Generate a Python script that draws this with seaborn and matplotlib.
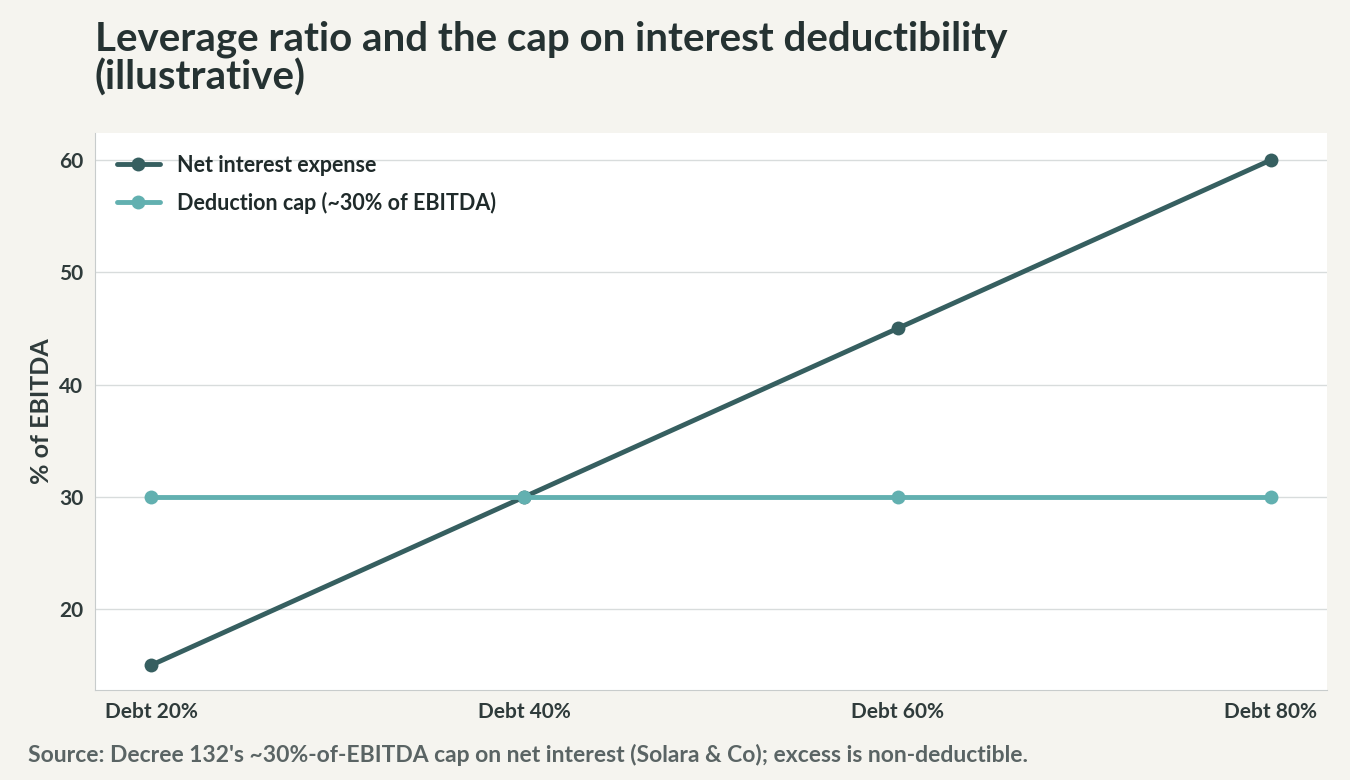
import matplotlib
matplotlib.use("Agg")
import matplotlib.pyplot as plt
import seaborn as sns
import pandas as pd

categories = ["Debt 20%", "Debt 40%", "Debt 60%", "Debt 80%"]
net_interest = [15, 30, 45, 60]
deduction_cap = [30, 30, 30, 30]
series_names = ["Net interest expense", "Deduction cap (~30% of EBITDA)"]

sns.set_style("whitegrid")
plt.rcParams['font.family'] = ['Lato', 'DejaVu Sans']

df = pd.DataFrame({
    "cat": categories * 2,
    "val": net_interest + deduction_cap,
    "series": [series_names[0]] * 4 + [series_names[1]] * 4,
})
df["x"] = list(range(4)) * 2

fig = plt.figure(figsize=(13.5, 7.8), dpi=100, facecolor="#f5f4ef")
ax = fig.add_axes([95/1350, 1-690/780, (1327-95)/1350, (690-133)/780])
ax.set_facecolor("white")
sns.lineplot(data=df, x="x", y="val", hue="series", palette=["#365f60", "#62b0b0"],
             marker="o", markersize=10, markeredgewidth=0, linewidth=3.5, ax=ax)
ax.set_xlim(-0.15, 3.15)
ax.set_ylim(12.8, 62.4)
ax.set_xticks(range(4))
ax.set_xticklabels(categories)
ax.set_yticks([20, 30, 40, 50, 60])
ax.grid(axis="x", visible=False)
ax.grid(axis="y", color="#d8dcdc", linewidth=1)
for s in ["top", "right"]:
    ax.spines[s].set_visible(False)
for s in ["left", "bottom"]:
    ax.spines[s].set_color("#c8cccc")
ax.tick_params(axis="both", labelsize=15, colors="#2f3b3b", length=5, color="#c8cccc")
for t in ax.get_xticklabels() + ax.get_yticklabels():
    t.set_fontweight("bold")
ax.set_xlabel("")
ax.set_ylabel("% of EBITDA", fontsize=18, fontweight="bold", color="#2f3b3b")
leg = ax.legend(loc="upper left", frameon=False, fontsize=15.5, handlelength=2,
                labelspacing=0.75, borderaxespad=0.6)
for t in leg.get_texts():
    t.set_fontweight("bold"); t.set_color("#1f2a2a")
fig.text(95/1350, 1-20/780, "Leverage ratio and the cap on interest deductibility\n(illustrative)",
         fontsize=29, fontweight="bold", color="#253232", va="top", ha="left", linespacing=1.05)
fig.text(28/1350, 1-755/780, "Source: Decree 132's ~30%-of-EBITDA cap on net interest (Solara & Co); excess is non-deductible.",
         fontsize=16.5, fontweight="bold", color="#5a6464", va="center", ha="left")
fig.savefig("out.png", dpi=100, facecolor=fig.get_facecolor())
